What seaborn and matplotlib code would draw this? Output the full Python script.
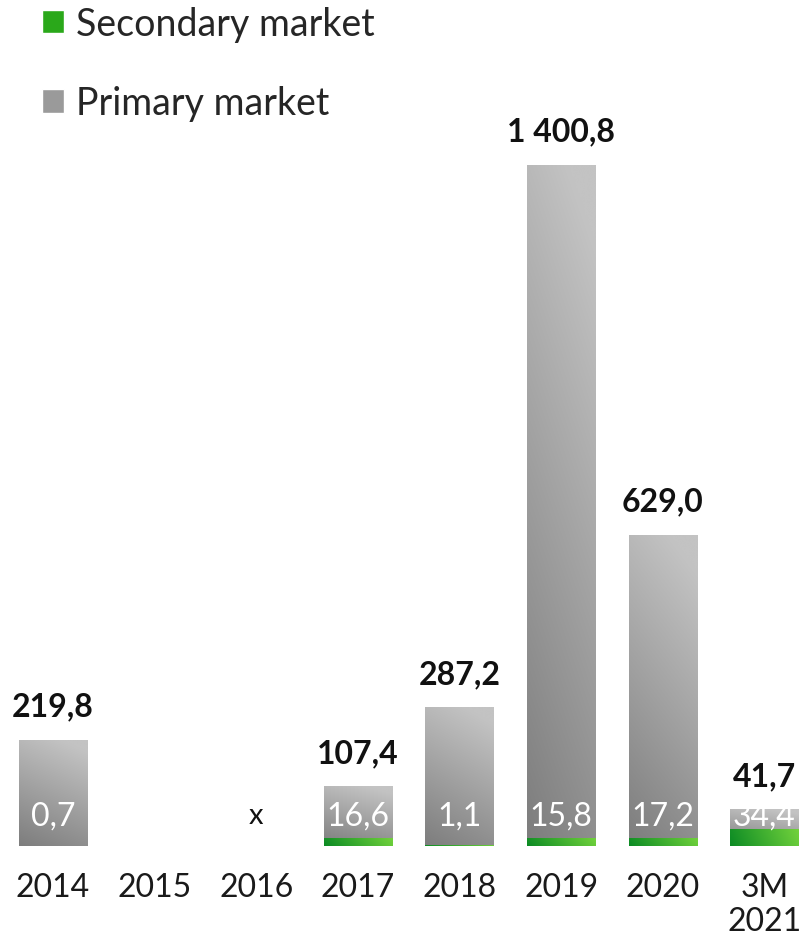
import numpy as np
import pandas as pd
import matplotlib
matplotlib.use('Agg')
import matplotlib.pyplot as plt
import seaborn as sns
from matplotlib.colors import to_rgb
from matplotlib.patches import Patch

categories = ['2014', '2015', '2016', '2017', '2018', '2019', '2020', '3M\n2021']
primary = [219.8, 0.0, 0.0, 107.4, 287.2, 1400.8, 629.0, 41.7]
secondary = [0.7, 0.0, 0.0, 16.6, 1.1, 15.8, 17.2, 34.4]
has_data = [True, False, False, True, True, True, True, True]
no_data_mark = ['', '', 'x', '', '', '', '', '']

sns.set_theme(style='white')
plt.rcParams['font.family'] = ['Lato', 'DejaVu Sans']

fig = plt.figure(figsize=(8, 9.37), dpi=100)
ax = fig.add_axes([0, 90 / 937, 1, 847 / 937])

total = [p + s for p, s in zip(primary, secondary)]
df = pd.DataFrame({'cat': categories, 'total': total, 'secondary': secondary})
sns.barplot(data=df, x='cat', y='total', color='#a0a0a0', width=0.67,
            saturation=1, ax=ax)
sns.barplot(data=df, x='cat', y='secondary', color='#2aa81a', width=0.67,
            saturation=1, ax=ax)

XLIM = (-0.52, 7.35)
YLIM = (0, 1761)

def gray_img():
    n = 128
    xx, yy = np.meshgrid(np.linspace(0, 1, n), np.linspace(0, 1, n))
    t = np.clip(0.85 * yy + 0.25 * xx, 0, 1)
    dark = np.array(to_rgb('#7d7d7d'))
    light = np.array(to_rgb('#c3c3c3'))
    return dark + t[..., None] * (light - dark)

def green_img():
    n = 128
    xx, yy = np.meshgrid(np.linspace(0, 1, n), np.linspace(0, 1, n))
    t = np.clip(0.9 * xx + 0.1 * yy, 0, 1)
    dark = np.array(to_rgb('#0b8a24'))
    light = np.array(to_rgb('#72d23c'))
    return dark + t[..., None] * (light - dark)

def fill_gradient(patch, img, z):
    x, y = patch.get_x(), patch.get_y()
    w, h = patch.get_width(), patch.get_height()
    if not (h > 0):
        return
    im = ax.imshow(img, extent=[x, x + w, y, y + h], origin='lower',
                   aspect='auto', zorder=z, interpolation='bilinear')
    im.set_clip_path(patch)
    patch.set_facecolor('none')
    patch.set_edgecolor('none')

for patch in ax.containers[0]:
    fill_gradient(patch, gray_img(), 2)
for patch in ax.containers[1]:
    fill_gradient(patch, green_img(), 3)

def fmt(v):
    return f"{v:,.1f}".replace(',', ' ').replace('.', ',')

for i, patch in enumerate(ax.containers[0]):
    cx = patch.get_x() + patch.get_width() / 2
    if has_data[i]:
        ax.annotate(fmt(primary[i]), xy=(cx, patch.get_height()),
                    xytext=(0, 14), textcoords='offset points',
                    ha='center', va='bottom', fontsize=23,
                    fontweight='bold', color='#111111', zorder=5)
        ax.annotate(fmt(secondary[i]), xy=(cx, 0), xytext=(0, 22),
                    textcoords='offset points', ha='center', va='center',
                    fontsize=23, fontweight='normal', color='white', zorder=5)
    elif no_data_mark[i]:
        ax.annotate(no_data_mark[i], xy=(cx, 0), xytext=(0, 22),
                    textcoords='offset points', ha='center', va='center',
                    fontsize=21, fontweight='normal', color='#111111', zorder=5)

ax.set_xlim(*XLIM)
ax.set_ylim(*YLIM)
ax.set_xlabel('')
ax.set_ylabel('')
ax.set_yticks([])
ax.set_xticks(range(len(categories)))
ax.set_xticklabels(categories, fontsize=23, fontweight='normal',
                   color='#1a1a1a', linespacing=1.15)
ax.tick_params(axis='x', length=0, pad=19)
for s in ax.spines.values():
    s.set_visible(False)

handles = [Patch(facecolor='#2aa81a', label='Secondary market'),
           Patch(facecolor='#9a9a9a', label='Primary market')]
fig.legend(handles=handles, loc='upper left',
           bbox_to_anchor=(38 / 800, 1 - 3 / 937),
           frameon=False, prop={'size': 27, 'weight': 'normal'},
           handlelength=0.6, handleheight=0.6, handletextpad=0.3,
           labelspacing=1.15, borderaxespad=0, borderpad=0.1)

fig.savefig('out.png', dpi=100)
